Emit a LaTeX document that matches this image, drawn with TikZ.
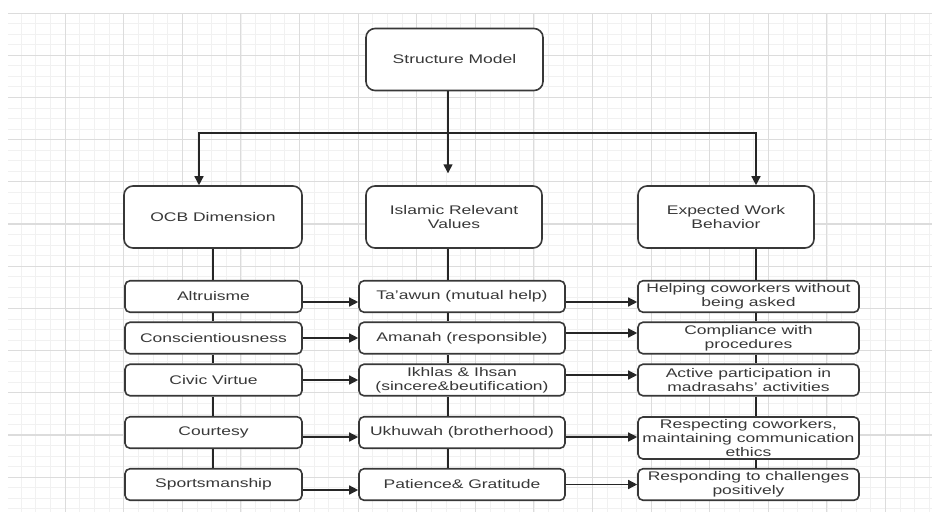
\documentclass[tikz,border=0pt]{standalone}
\usepackage{fontspec}
\setmainfont{Liberation Sans}[FakeStretch=1.4]
\usetikzlibrary{arrows.meta}
\definecolor{gridmin}{HTML}{F1F1F1}
\definecolor{gridmaj}{HTML}{DCDCDC}
\definecolor{ink}{HTML}{383838}

\begin{document}
\begin{tikzpicture}[x=1pt, y=-1pt,
    box/.style={draw=ink, line width=1.6pt, fill=white, rounded corners=9pt,
      align=center, inner sep=0pt, text=ink,
      font=\fontsize{12.5}{14.3}\selectfont, minimum height=62pt},
    item/.style={box, rounded corners=5pt, minimum height=31.5pt},
    link/.style={draw=black!85, line width=1.4pt},
    tip/.style={link, -{Triangle[length=9pt, width=9pt]}}]
  \useasboundingbox (0,0) rectangle (932,512);
  \fill[white] (0,0) rectangle (932,512);
  % grid paper
  \begin{scope}
    \clip (8,13) rectangle (932,512);
    \foreach \i in {0,...,63}
      \draw[gridmin, line width=0.8pt] (6.5+14.65*\i,13) -- ++(0,499);
    \foreach \i in {0,...,48}
      \draw[gridmin, line width=0.8pt] (8,13+10.55*\i) -- ++(924,0);
    \foreach \i in {0,...,15}
      \draw[gridmaj, line width=1.1pt] (6.5+58.6*\i,13) -- ++(0,499);
    \foreach \i in {0,...,12}
      \draw[gridmaj, line width=1.1pt] (8,13+42.2*\i) -- ++(924,0);
  \end{scope}

  % headers
  \node[box, minimum width=177pt] (model) at (454.5,59.5) {Structure Model};
  \node[box, minimum width=178pt] (ocb) at (213,217) {OCB Dimension};
  \node[box, minimum width=176pt] (isl) at (454,217) {Islamic Relevant\\Values};
  \node[box, minimum width=176pt] (exp) at (726,217) {Expected Work\\Behavior};

  % OCB dimensions
  \node[item, minimum width=177pt] (alt) at (213.5,296.5) {Altruisme};
  \node[item, minimum width=177pt] (con) at (213.5,338) {Conscientiousness};
  \node[item, minimum width=177pt] (civ) at (213.5,380) {Civic Virtue};
  \node[item, minimum width=177pt] (cou) at (213.5,432.5) {Courtesy};
  \node[item, minimum width=177pt] (spo) at (213.5,484.5) {Sportsmanship};

  % Islamic values
  \node[item, minimum width=206pt] (taa) at (462,296.5) {Ta'awun (mutual help)};
  \node[item, minimum width=206pt] (ama) at (462,338) {Amanah (responsible)};
  \node[item, minimum width=206pt] (ikh) at (462,380) {Ikhlas \& Ihsan\\(sincere\&beutification)};
  \node[item, minimum width=206pt] (ukh) at (462,432.5) {Ukhuwah (brotherhood)};
  \node[item, minimum width=206pt] (pat) at (462,484.5) {Patience\& Gratitude};

  % work behavior
  \node[item, minimum width=221pt] (hlp) at (748.5,296.5) {Helping coworkers without\\being asked};
  \node[item, minimum width=221pt] (cmp) at (748.5,338) {Compliance with\\procedures};
  \node[item, minimum width=221pt] (act) at (748.5,380) {Active participation in\\madrasahs' activities};
  \node[item, minimum width=221pt, minimum height=42pt] (rsp) at (748.5,438) {Respecting coworkers,\\maintaining communication\\ethics};
  \node[item, minimum width=221pt] (res) at (748.5,484.5) {Responding to challenges\\positively};

  \coordinate (lx) at (213,0);
  \coordinate (mx) at (448,0);
  \coordinate (rx) at (756,0);
  \coordinate (ax) at (199,0);
  \coordinate (hub) at (448,133);

  % top branches
  \draw[tip] (model.south -| mx) -- ++(0,82);
  \draw[link, {Triangle[length=9pt, width=9pt]}-{Triangle[length=9pt, width=9pt]}]
    (ocb.north -| ax) |- (hub) -| (exp.north -| rx);

  % column spines
  \foreach \a/\b in {ocb/alt, alt/con, con/civ, civ/cou, cou/spo}
    \draw[link] (\a.south -| lx) -- (\b.north -| lx);
  \foreach \a/\b in {isl/taa, taa/ama, ama/ikh, ikh/ukh, ukh/pat}
    \draw[link] (\a.south -| mx) -- (\b.north -| mx);
  \foreach \a/\b in {exp/hlp, hlp/cmp, cmp/act, act/rsp, rsp/res}
    \draw[link] (\a.south -| rx) -- (\b.north -| rx);

  % rows
  \foreach \a/\b/\d in {alt/taa/5.5, con/ama/0, civ/ikh/0, cou/ukh/4.5, spo/pat/5.5}
    \draw[tip] ([yshift=-\d pt]\a.east) -- ([yshift=-\d pt]\a.east -| \b.west);
  \foreach \a/\b/\d in {taa/hlp/5.5, ama/cmp/-5, ikh/act/-5, ukh/rsp/4.5, pat/res/0}
    \draw[tip] ([yshift=-\d pt]\a.east) -- ([yshift=-\d pt]\a.east -| \b.west);
\end{tikzpicture}
\end{document}
